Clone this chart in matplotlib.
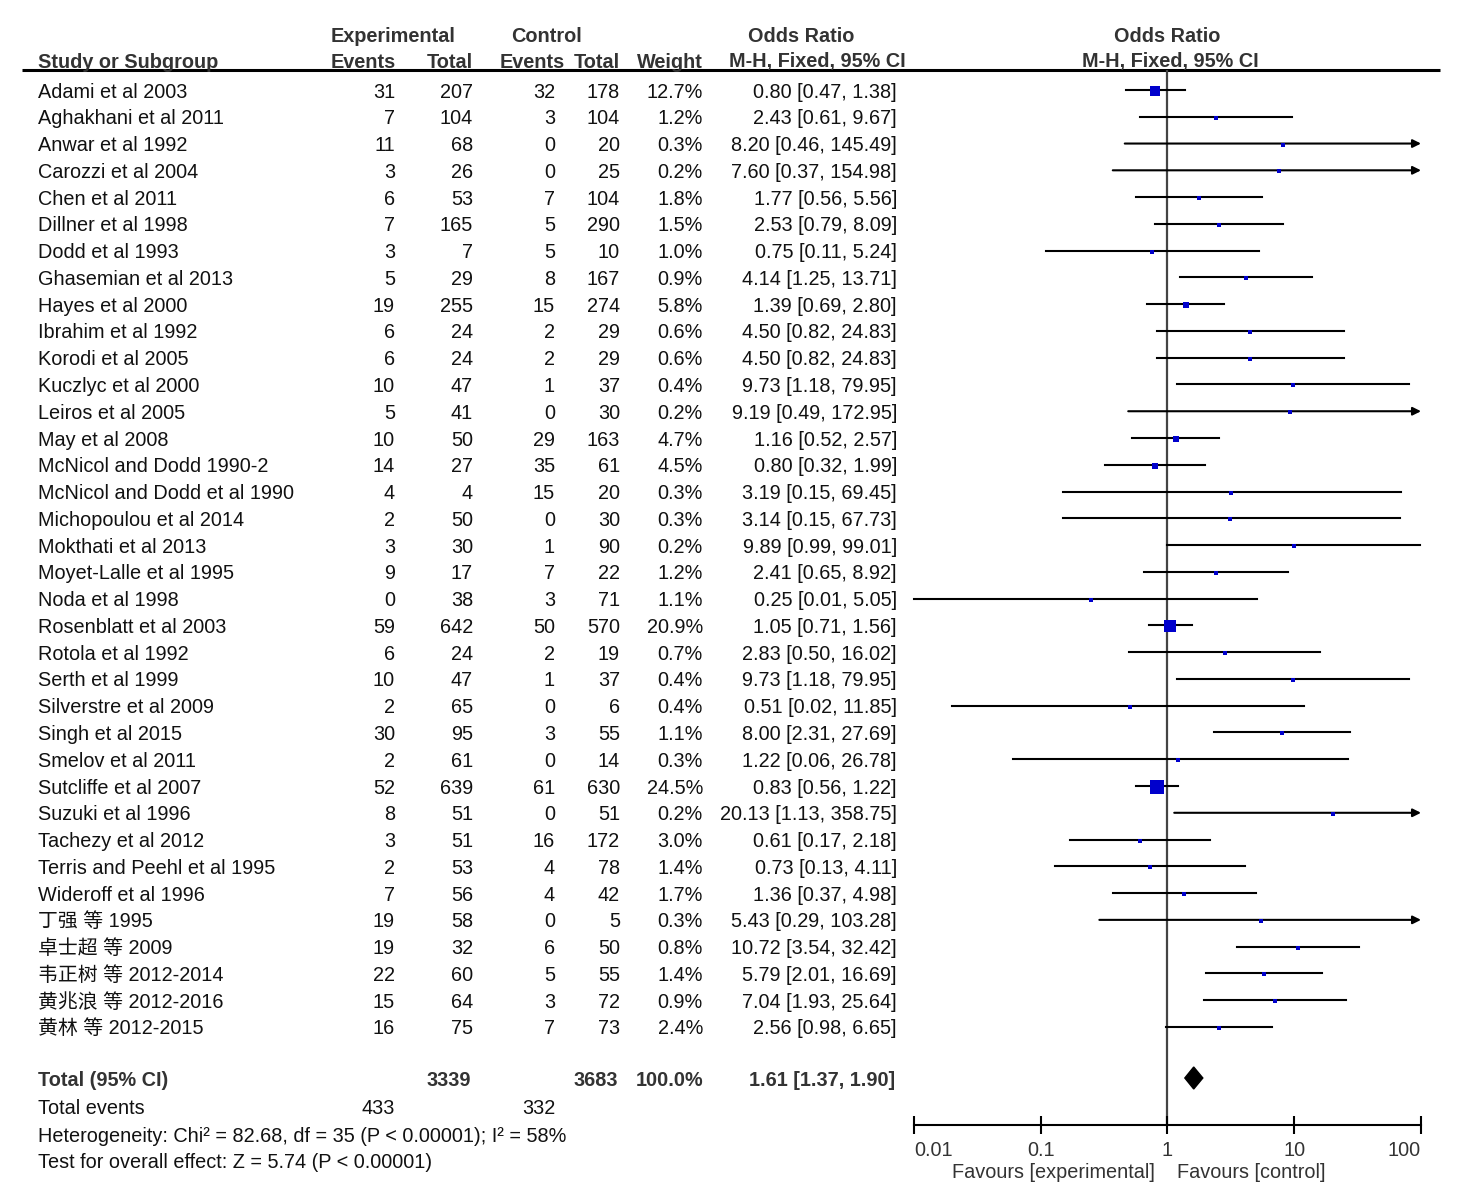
import numpy as np
import matplotlib
matplotlib.use("Agg")
import matplotlib.pyplot as plt

plt.rcParams['font.family'] = ['Liberation Sans', 'Noto Sans CJK SC']

studies = [
    "Adami et al 2003", "Aghakhani et al 2011", "Anwar et al 1992", "Carozzi et al 2004",
    "Chen et al 2011", "Dillner et al 1998", "Dodd et al 1993", "Ghasemian et al 2013",
    "Hayes et al 2000", "Ibrahim et al 1992", "Korodi et al 2005", "Kuczlyc et al 2000",
    "Leiros et al 2005", "May et al 2008", "McNicol and Dodd 1990-2",
    "McNicol and Dodd et al 1990", "Michopoulou et al 2014", "Mokthati et al 2013",
    "Moyet-Lalle et al 1995", "Noda et al 1998", "Rosenblatt et al 2003", "Rotola et al 1992",
    "Serth et al 1999", "Silverstre et al 2009", "Singh et al 2015", "Smelov et al 2011",
    "Sutcliffe et al 2007", "Suzuki et al 1996", "Tachezy et al 2012",
    "Terris and Peehl et al 1995", "Wideroff et al 1996", "丁强 等 1995", "卓士超 等 2009",
    "韦正树 等 2012-2014", "黄兆浪 等 2012-2016", "黄林 等 2012-2015",
]
exp_events = [31, 7, 11, 3, 6, 7, 3, 5, 19, 6, 6, 10, 5, 10, 14, 4, 2, 3, 9, 0, 59, 6, 10, 2,
              30, 2, 52, 8, 3, 2, 7, 19, 19, 22, 15, 16]
exp_total = [207, 104, 68, 26, 53, 165, 7, 29, 255, 24, 24, 47, 41, 50, 27, 4, 50, 30, 17, 38,
             642, 24, 47, 65, 95, 61, 639, 51, 51, 53, 56, 58, 32, 60, 64, 75]
ctrl_events = [32, 3, 0, 0, 7, 5, 5, 8, 15, 2, 2, 1, 0, 29, 35, 15, 0, 1, 7, 3, 50, 2, 1, 0,
               3, 0, 61, 0, 16, 4, 4, 0, 6, 5, 3, 7]
ctrl_total = [178, 104, 20, 25, 104, 290, 10, 167, 274, 29, 29, 37, 30, 163, 61, 20, 30, 90,
              22, 71, 570, 19, 37, 6, 55, 14, 630, 51, 172, 78, 42, 5, 50, 55, 72, 73]
weight = [12.7, 1.2, 0.3, 0.2, 1.8, 1.5, 1.0, 0.9, 5.8, 0.6, 0.6, 0.4, 0.2, 4.7, 4.5, 0.3, 0.3,
          0.2, 1.2, 1.1, 20.9, 0.7, 0.4, 0.4, 1.1, 0.3, 24.5, 0.2, 3.0, 1.4, 1.7, 0.3, 0.8, 1.4,
          0.9, 2.4]
odds = [0.80, 2.43, 8.20, 7.60, 1.77, 2.53, 0.75, 4.14, 1.39, 4.50, 4.50, 9.73, 9.19, 1.16,
        0.80, 3.19, 3.14, 9.89, 2.41, 0.25, 1.05, 2.83, 9.73, 0.51, 8.00, 1.22, 0.83, 20.13,
        0.61, 0.73, 1.36, 5.43, 10.72, 5.79, 7.04, 2.56]
ci_low = [0.47, 0.61, 0.46, 0.37, 0.56, 0.79, 0.11, 1.25, 0.69, 0.82, 0.82, 1.18, 0.49, 0.52,
          0.32, 0.15, 0.15, 0.99, 0.65, 0.01, 0.71, 0.50, 1.18, 0.02, 2.31, 0.06, 0.56, 1.13,
          0.17, 0.13, 0.37, 0.29, 3.54, 2.01, 1.93, 0.98]
ci_high = [1.38, 9.67, 145.49, 154.98, 5.56, 8.09, 5.24, 13.71, 2.80, 24.83, 24.83, 79.95,
           172.95, 2.57, 1.99, 69.45, 67.73, 99.01, 8.92, 5.05, 1.56, 16.02, 79.95, 11.85,
           27.69, 26.78, 1.22, 358.75, 2.18, 4.11, 4.98, 103.28, 32.42, 16.69, 25.64, 6.65]

total_exp, total_ctrl = 3339, 3683
events_exp, events_ctrl = 433, 332
pooled_or, pooled_lo, pooled_hi = 1.61, 1.37, 1.90
heterogeneity = "Heterogeneity: Chi² = 82.68, df = 35 (P < 0.00001); I² = 58%"
overall = "Test for overall effect: Z = 5.74 (P < 0.00001)"

W, H = 1474, 1200
ROW0, DY = 92, 26.77
TXT = "#111111"
HDR = "#333333"
FS = 14.3

fig = plt.figure(figsize=(W / 100, H / 100), dpi=100)
ax_t = fig.add_axes([0, 0, 1, 1])
ax_t.set_xlim(0, W)
ax_t.set_ylim(H, 0)
ax_t.axis("off")

# headers
for x, s in [(393, "Experimental"), (547, "Control"), (801, "Odds Ratio"), (1167, "Odds Ratio")]:
    ax_t.text(x, 36, s, ha="center", va="center", fontsize=FS, fontweight="bold", color=HDR)
ax_t.text(38, 62, "Study or Subgroup", ha="left", va="center", fontsize=FS,
          fontweight="bold", color=HDR)
for x, s in [(396, "Events"), (473, "Total"), (565, "Events"), (620, "Total"), (703, "Weight")]:
    ax_t.text(x, 62, s, ha="right", va="center", fontsize=FS, fontweight="bold", color=HDR)
ax_t.text(817, 62, "M-H, Fixed, 95% CI", ha="center", va="center", fontsize=FS,
          fontweight="bold", color=HDR)
ax_t.text(1170, 62, "M-H, Fixed, 95% CI", ha="center", va="center", fontsize=FS,
          fontweight="bold", color=HDR)
ax_t.plot([22, 1440], [70, 70], color="black", lw=2.2, solid_capstyle="butt")

# study rows
for i, name in enumerate(studies):
    y = ROW0 + DY * i
    ax_t.text(38, y, name, ha="left", va="center", fontsize=FS, color=TXT)
    ax_t.text(395, y, str(exp_events[i]), ha="right", va="center", fontsize=FS, color=TXT)
    ax_t.text(473, y, str(exp_total[i]), ha="right", va="center", fontsize=FS, color=TXT)
    ax_t.text(555, y, str(ctrl_events[i]), ha="right", va="center", fontsize=FS, color=TXT)
    ax_t.text(620, y, str(ctrl_total[i]), ha="right", va="center", fontsize=FS, color=TXT)
    ax_t.text(703, y, f"{weight[i]:.1f}%", ha="right", va="center", fontsize=FS, color=TXT)
    ax_t.text(897, y, f"{odds[i]:.2f} [{ci_low[i]:.2f}, {ci_high[i]:.2f}]", ha="right",
              va="center", fontsize=FS, color=TXT)

# totals
y_tot = 1080
ax_t.text(38, y_tot, "Total (95% CI)", ha="left", va="center", fontsize=FS,
          fontweight="bold", color=HDR)
ax_t.text(471, y_tot, str(total_exp), ha="right", va="center", fontsize=FS,
          fontweight="bold", color=HDR)
ax_t.text(618, y_tot, str(total_ctrl), ha="right", va="center", fontsize=FS,
          fontweight="bold", color=HDR)
ax_t.text(703, y_tot, "100.0%", ha="right", va="center", fontsize=FS,
          fontweight="bold", color=HDR)
ax_t.text(895, y_tot, f"{pooled_or:.2f} [{pooled_lo:.2f}, {pooled_hi:.2f}]", ha="right",
          va="center", fontsize=FS, fontweight="bold", color=HDR)
ax_t.text(38, 1109, "Total events", ha="left", va="center", fontsize=FS, color=TXT)
ax_t.text(395, 1109, str(events_exp), ha="right", va="center", fontsize=FS, color=TXT)
ax_t.text(555, 1109, str(events_ctrl), ha="right", va="center", fontsize=FS, color=TXT)
ax_t.text(38, 1136, heterogeneity, ha="left", va="center", fontsize=FS, color=TXT)
ax_t.text(38, 1163, overall, ha="left", va="center", fontsize=FS, color=TXT)

ax_t.text(1155, 1173, "Favours [experimental]", ha="right", va="center", fontsize=FS, color=HDR)
ax_t.text(1177, 1173, "Favours [control]", ha="left", va="center", fontsize=FS, color=HDR)

# forest panel
x0, x1, y_top, y_axis = 914, 1421, 70, 1125
ax = fig.add_axes([x0 / W, (H - y_axis) / H, (x1 - x0) / W, (y_axis - y_top) / H])
ax.set_xscale("log")
ax.set_xlim(0.01, 100)
ax.set_ylim(y_axis, y_top)
ax.patch.set_alpha(0)
for s in ["top", "left", "right"]:
    ax.spines[s].set_visible(False)
ax.spines["bottom"].set_linewidth(1.5)
ax.set_yticks([])
ax.set_xticks([0.01, 0.1, 1, 10, 100])
ax.set_xticklabels(["0.01", "0.1", "1", "10", "100"])
ax.minorticks_off()
ax.tick_params(axis="x", direction="inout", length=13, width=1.5, pad=5,
               labelsize=FS, labelcolor=HDR)
lbls = ax.get_xticklabels()
lbls[0].set_ha("left")
lbls[-1].set_ha("right")
ax.axvline(1, color="#444444", lw=1.6, zorder=1)

for i in range(len(studies)):
    y = ROW0 - 2 + DY * i
    lo = max(ci_low[i], 0.01)
    if ci_high[i] > 100:
        ax.annotate("", xy=(100, y), xytext=(lo, y), annotation_clip=False,
                    arrowprops=dict(arrowstyle="-|>", lw=1.5, color="black",
                                    mutation_scale=12, shrinkA=0, shrinkB=0))
    else:
        ax.plot([lo, ci_high[i]], [y, y], color="black", lw=1.5, clip_on=False, zorder=2)
    side_px = max(3.5, 14 * np.sqrt(weight[i] / 24.5))
    ax.plot(odds[i], y + 1, marker="s", markersize=side_px * 0.72, color="#0000CC",
            markeredgewidth=0, linestyle="none", clip_on=False, zorder=3)

ax.fill([pooled_lo, pooled_or, pooled_hi, pooled_or],
        [y_tot - 2, y_tot - 13, y_tot - 2, y_tot + 9], color="black", zorder=3)

fig.savefig("out.png", dpi=100)
